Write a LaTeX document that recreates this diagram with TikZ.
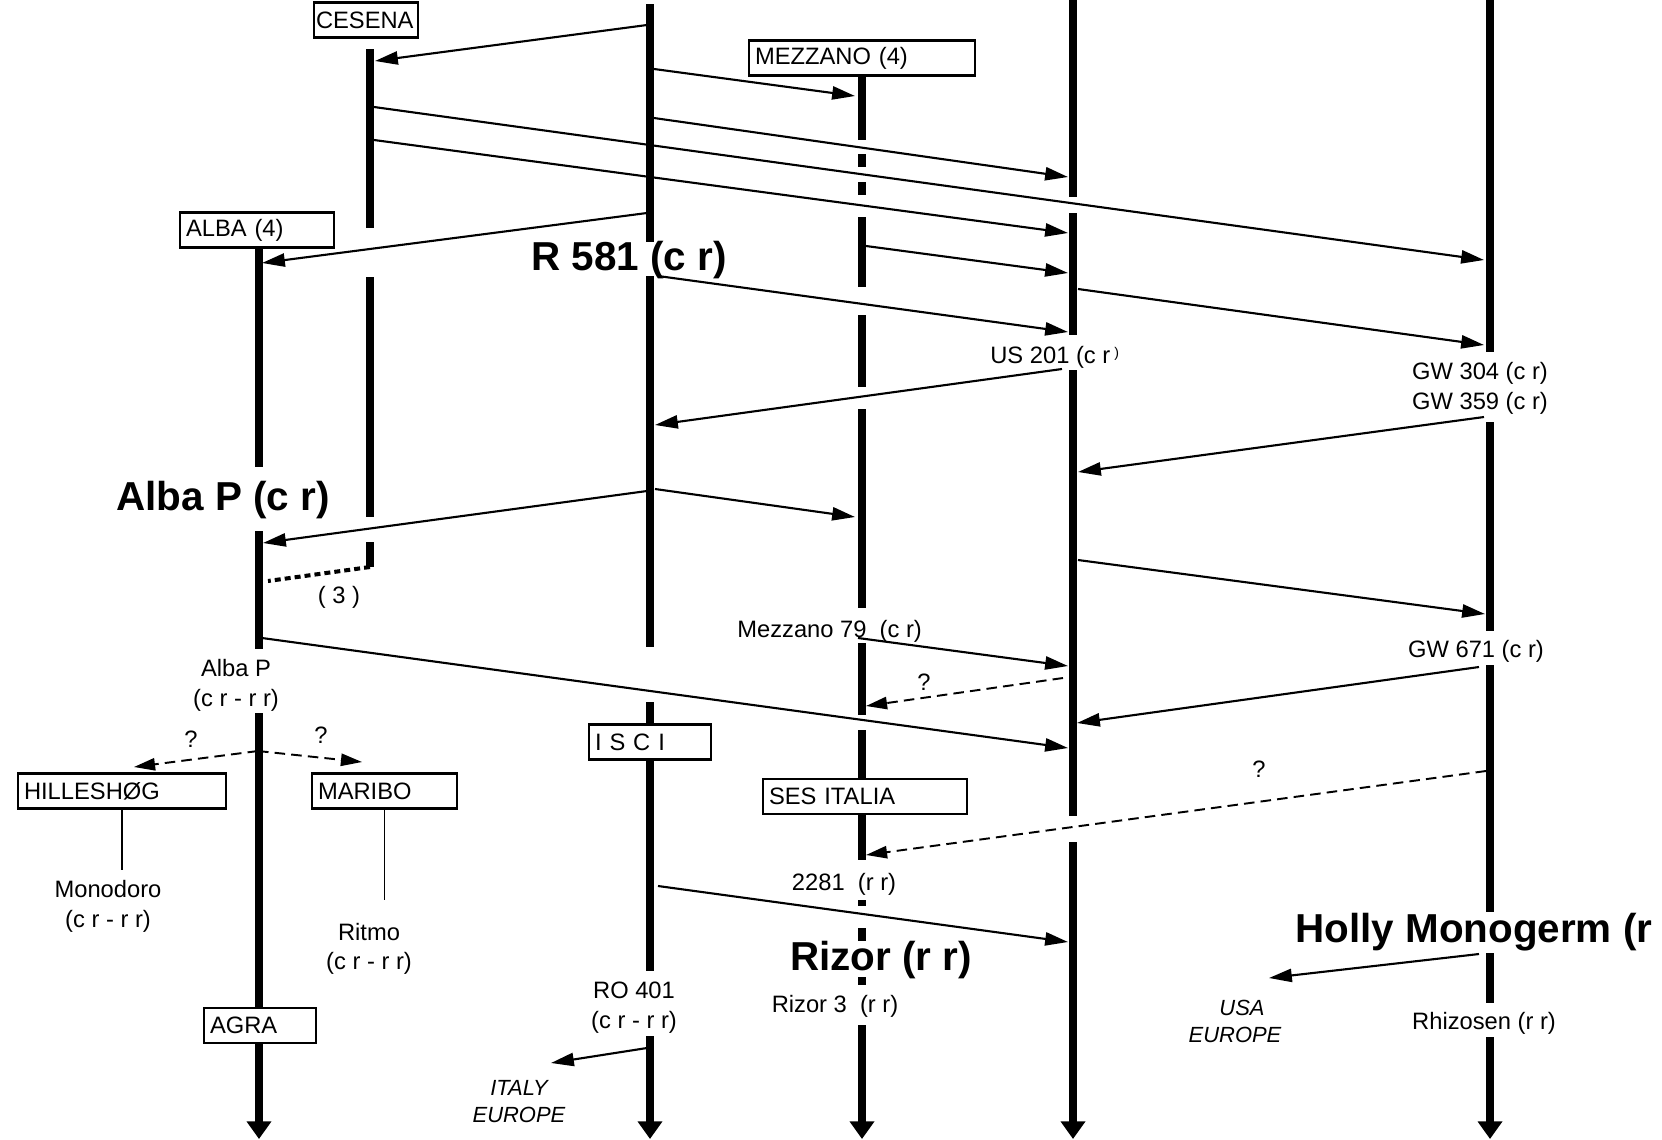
\documentclass[tikz,border=0pt]{standalone}
\usepackage{fontspec}
\setmainfont{Liberation Sans}
\usetikzlibrary{arrows.meta,positioning}
\tikzset{
  lbox/.style={rectangle,draw,line width=1.2pt,fill=white,
               inner xsep=3.4pt,inner ysep=0pt,minimum height=0.7cm,
               align=left,font=\fontsize{13.5pt}{16pt}\selectfont},
  life/.style={line width=4.2pt},
  lifeend/.style={line width=4.2pt,-{Triangle[length=10pt,width=13.5pt]}},
  arr/.style={line width=1.2pt,-{Triangle[length=13pt,width=7.5pt]}},
  darr/.style={line width=1.1pt,dash pattern=on 6pt off 3.5pt,
               -{Triangle[length=12pt,width=7pt]}},
  dotl/.style={line width=2.3pt,dash pattern=on 3.4pt off 2.3pt},
  conn/.style={line width=1.1pt},
  lbl/.style={inner sep=0pt,anchor=base,font=\fontsize{13.5pt}{16pt}\selectfont},
  big/.style={inner sep=0pt,anchor=base,font=\fontsize{23pt}{27pt}\selectfont\bfseries},
  ital/.style={lbl,font=\fontsize{12.5pt}{15pt}\selectfont\itshape},
}

\begin{document}
\begin{tikzpicture}[x=0.02cm,y=-0.02cm]
  \useasboundingbox[fill=white] (0,0) rectangle (1662,1139);

  %% ── lines of descent ─────────────────────────────────────────────────────
  % Alba
  \draw[life] (259,247) -- (259,467) (259,531) -- (259,649) (259,713) -- (259,1007);
  \draw[lifeend] (259,1044) -- (259,1139);
  % Cesena
  \draw[life] (370,49) -- (370,228) (370,277) -- (370,517) (370,542) -- (370,567);
  % R 581
  \draw[life] (650,4) -- (650,242) (650,276) -- (650,647) (650,702) -- (650,971);
  \draw[lifeend] (650,1036) -- (650,1139);
  % Mezzano
  \draw[life] (862,76) -- (862,140) (862,154) -- (862,167) (862,182) -- (862,195)
              (862,217) -- (862,287) (862,315) -- (862,387) (862,409) -- (862,608)
              (862,643) -- (862,715) (862,730) -- (862,860) (862,900) -- (862,906)
              (862,928) -- (862,941) (862,977) -- (862,985);
  \draw[lifeend] (862,1025) -- (862,1139);
  % US 201
  \draw[life] (1073,0) -- (1073,197) (1073,213) -- (1073,335) (1073,370) -- (1073,816);
  \draw[lifeend] (1073,842) -- (1073,1139);
  % GW
  \draw[life] (1490,0) -- (1490,352) (1490,422) -- (1490,631) (1490,665) -- (1490,912)
              (1490,953) -- (1490,1003);
  \draw[lifeend] (1490,1037) -- (1490,1139);

  %% ── breeders ─────────────────────────────────────────────────────────────
  \node[lbox,inner xsep=1pt,text width=2.0cm] (cesena) at (366,20) {CESENA};
  \node[lbox,text width=4.28cm] (mezzano) at (862,58)    {MEZZANO (4)};
  \node[lbox,text width=2.84cm] (alba)    at (257,230)   {ALBA (4)};
  \node[lbox,text width=2.2cm]  (isci)    at (650,742)   {I S C I};
  \node[lbox,text width=3.84cm] (sesit)   at (865,796.5) {SES ITALIA};
  \node[lbox,text width=3.92cm] (hill)    at (122,791)   {HILLESHØG};
  \node[lbox,text width=2.66cm] (maribo)  at (384.5,791) {MARIBO};
  \node[lbox,text width=2.0cm]  (agra)    at (260,1025.5){AGRA};

  %% ── varieties ────────────────────────────────────────────────────────────
  \node[big] (r581)  at (629,270) {R 581 (c r)};
  \node[big] (albacr) at (223,510) {Alba P (c r)};
  \node[big] (rizor) at (881,970) {Rizor (r r)};
  \node[big,anchor=base west] (holly) at (1295,942) {Holly Monogerm (r r)};

  \node[lbl,anchor=base west] (us201) at (990,363)
       {US 201 (c r\,\raisebox{3pt}{\fontsize{8pt}{8pt}\selectfont )}};
  \node[lbl] (gw304) at (1480,379) {GW 304 (c r)};
  \node[lbl,below=0.62cm of gw304.base,anchor=base] (gw359) {GW 359 (c r)};
  \node[lbl] (three) at (339,603) {( 3 )};
  \node[lbl] (albap) at (236,676) {Alba P};
  \node[lbl,below=0.6cm of albap.base,anchor=base] (albaprr) {(c r - r r)};
  \node[lbl] (qhill) at (191,747) {?};
  \node[lbl] (qmar)  at (321,743) {?};
  \node[lbl,anchor=base west] (mez79) at (737,637) {Mezzano 79\ \ (c r)};
  \node[lbl] (qmez)  at (924,690) {?};
  \node[lbl] (gw671) at (1476,657) {GW 671 (c r)};
  \node[lbl] (qgw)   at (1259,777) {?};
  \node[lbl] (mono)  at (108,897) {Monodoro};
  \node[lbl,below=0.6cm of mono.base,anchor=base] (monorr) {(c r - r r)};
  \node[lbl] (ritmo) at (369,940) {Ritmo};
  \node[lbl,below=0.58cm of ritmo.base,anchor=base] (ritmorr) {(c r - r r)};
  \node[lbl] (n2281) at (844,890) {2281\ \ (r r)};
  \node[lbl] (ro401) at (634,998) {RO 401};
  \node[lbl,below=0.6cm of ro401.base,anchor=base] (ro401rr) {(c r - r r)};
  \node[lbl] (rizor3) at (835,1012) {Rizor 3\ \ (r r)};
  \node[ital] (italy) at (519,1095) {ITALY};
  \node[ital,below=0.54cm of italy.base,anchor=base] (eur1) {EUROPE};
  \node[ital] (usa) at (1242,1015) {USA};
  \node[ital,below=0.54cm of usa.base,anchor=base,xshift=-0.14cm] (eur2) {EUROPE};
  \node[lbl] (rhizo) at (1484,1029) {Rhizosen (r r)};

  %% ── crossing points on the lines ─────────────────────────────────────────
  \coordinate (ro1) at (647,25);   \coordinate (ro2) at (654,69);
  \coordinate (ro3) at (654,118);  \coordinate (ro4) at (647,213);
  \coordinate (ro5) at (658,276);  \coordinate (ro6) at (655,425);
  \coordinate (ro7) at (647,491);  \coordinate (ro8) at (655,489);
  \coordinate (ro9) at (658,886);  \coordinate (ro10) at (647,1048);
  \coordinate (ce1) at (375,61);   \coordinate (ce2) at (374,107);
  \coordinate (ce3) at (374,140);  \coordinate (ce4) at (370,567);
  \coordinate (al1) at (262,263);  \coordinate (al2) at (263,543);
  \coordinate (al3) at (268,581);  \coordinate (al4) at (262,638);
  \coordinate (al5) at (258,751);
  \coordinate (me1) at (855,96);   \coordinate (me2) at (866,246);
  \coordinate (me3) at (855,517);  \coordinate (me4) at (858,638);
  \coordinate (me5) at (866,706);  \coordinate (me6) at (866,855);
  \coordinate (us1) at (1068,177); \coordinate (us2) at (1068,233);
  \coordinate (us3) at (1068,273); \coordinate (us4) at (1068,332);
  \coordinate (us5) at (1062,369); \coordinate (us6) at (1078,289);
  \coordinate (us7) at (1068,748); \coordinate (us8) at (1068,666);
  \coordinate (us9) at (1063,678); \coordinate (us10) at (1068,942);
  \coordinate (us11) at (1078,472);\coordinate (us12) at (1078,560);
  \coordinate (us13) at (1077,723);
  \coordinate (gw1) at (1484,260); \coordinate (gw2) at (1484,345);
  \coordinate (gw3) at (1484,417); \coordinate (gw4) at (1485,614);
  \coordinate (gw5) at (1479,667); \coordinate (gw6) at (1486,771);
  \coordinate (gw7) at (1479,954);
  \coordinate (tohill) at (134,767);  \coordinate (tomar) at (362,762);
  \coordinate (toitaly) at (551,1063); \coordinate (tousa) at (1269,978);

  %% ── crosses ──────────────────────────────────────────────────────────────
  \draw[arr] (ro1) -- (ce1);
  \draw[arr] (ro2) -- (me1);
  \draw[arr] (ce2) -- (gw1);
  \draw[arr] (ro3) -- (us1);
  \draw[arr] (ce3) -- (us2);
  \draw[arr] (ro4) -- (al1);
  \draw[arr] (me2) -- (us3);
  \draw[arr] (us6) -- (gw2);
  \draw[arr] (ro5) -- (us4);
  \draw[arr] (us5) -- (ro6);
  \draw[arr] (gw3) -- (us11);
  \draw[arr] (ro7) -- (al2);
  \draw[arr] (ro8) -- (me3);
  \draw[arr] (us12) -- (gw4);
  \draw[dotl] (ce4) -- (al3);
  \draw[arr] (al4) -- (us7);
  \draw[arr] (me4) -- (us8);
  \draw[darr] (us9) -- (me5);
  \draw[arr] (gw5) -- (us13);
  \draw[darr] (al5) -- (tohill);
  \draw[darr] (al5) -- (tomar);
  \draw[darr] (gw6) -- (me6);
  \draw[arr] (ro9) -- (us10);
  \draw[arr] (ro10) -- (toitaly);
  \draw[arr] (gw7) -- (tousa);

  %% ── company varieties ────────────────────────────────────────────────────
  \draw[conn,shorten >=0.19cm] (hill.south) -- (hill.south |- mono.north);
  \draw[conn,shorten >=0.44cm] (maribo.south) -- (maribo.south |- ritmo.north);

\end{tikzpicture}
\end{document}
